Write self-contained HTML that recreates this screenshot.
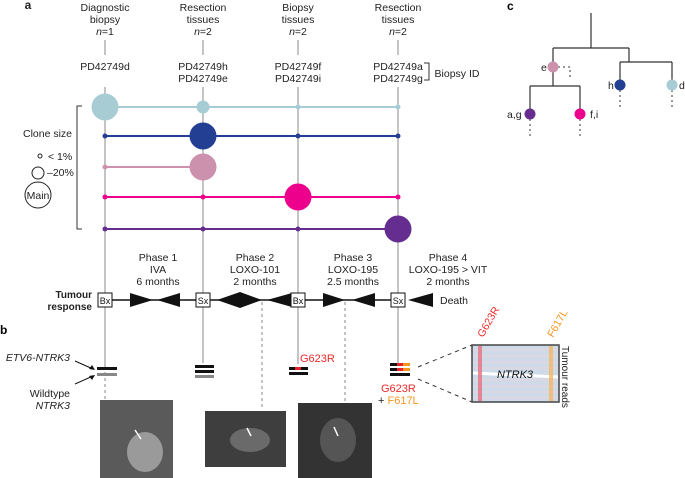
<!DOCTYPE html>
<html><head><style>body{margin:0;background:#fff}svg{display:block;font-family:"Liberation Sans",sans-serif}</style></head><body>
<svg width="685" height="478" viewBox="0 0 685 478" xmlns="http://www.w3.org/2000/svg">
<g font-size="10.5" fill="#222" text-anchor="middle">
<text x="28" y="9" font-weight="bold" font-size="12">a</text>
<text x="105" y="11">Diagnostic</text><text x="105" y="23">biopsy</text><text x="105" y="35"><tspan font-style="italic">n</tspan>=1</text>
<text x="203" y="11">Resection</text><text x="203" y="23">tissues</text><text x="203" y="35"><tspan font-style="italic">n</tspan>=2</text>
<text x="298" y="11">Biopsy</text><text x="298" y="23">tissues</text><text x="298" y="35"><tspan font-style="italic">n</tspan>=2</text>
<text x="398" y="11">Resection</text><text x="398" y="23">tissues</text><text x="398" y="35"><tspan font-style="italic">n</tspan>=2</text>
<text x="105" y="70">PD42749d</text>
<text x="203" y="70">PD42749h</text><text x="203" y="82">PD42749e</text>
<text x="298" y="70">PD42749f</text><text x="298" y="82">PD42749i</text>
<text x="398" y="70">PD42749a</text><text x="398" y="82">PD42749g</text>
<text x="457" y="77">Biopsy ID</text>
</g>
<path d="M424 63h5v17h-5" fill="none" stroke="#333"/>
<g stroke="#888" stroke-width="1">
<path d="M105 40v15M203 40v15M298 40v15M398 40v15"/>
<path d="M105 87v283M203 87v276M298 87v277M398 87v279"/>
</g>
<g stroke="#888" stroke-dasharray="3,3"><path d="M105 372v30M262 302v108M345 302v100"/></g>
<!-- rows -->
<g stroke-width="2">
<path d="M105 107H398" stroke="#a8ccd4"/>
<path d="M105 136H398" stroke="#233f94"/>
<path d="M105 167H203" stroke="#cc92ad"/>
<path d="M105 197H398" stroke="#ec008c"/>
<path d="M105 229H398" stroke="#662d91"/>
</g>
<g fill="#a8ccd4"><circle cx="105" cy="107" r="13.5"/><circle cx="203" cy="107" r="6.5"/><circle cx="298" cy="107" r="2.5"/><circle cx="398" cy="107" r="2.5"/></g>
<g fill="#233f94"><circle cx="105" cy="136" r="2.5"/><circle cx="203" cy="136" r="13.5"/><circle cx="298" cy="136" r="2.5"/><circle cx="398" cy="136" r="2.5"/></g>
<g fill="#cc92ad"><circle cx="105" cy="167" r="2.5"/><circle cx="203" cy="167" r="13.5"/></g>
<g fill="#ec008c"><circle cx="105" cy="197" r="2.5"/><circle cx="203" cy="197" r="2.5"/><circle cx="298" cy="197" r="13.5"/><circle cx="398" cy="197" r="2.5"/></g>
<g fill="#662d91"><circle cx="105" cy="229" r="2.5"/><circle cx="203" cy="229" r="2.5"/><circle cx="298" cy="229" r="2.5"/><circle cx="398" cy="229" r="13.5"/></g>
<path d="M82 106h-5v123h5" fill="none" stroke="#333"/>
<g font-size="10.5" fill="#222">
<text x="23" y="137">Clone size</text>
<text x="48" y="160">&lt; 1%</text>
<text x="47" y="176">–20%</text>
<text x="38" y="199" text-anchor="middle">Main</text>
</g>
<g fill="none" stroke="#222"><circle cx="40" cy="156" r="2"/><circle cx="38" cy="173" r="6"/><circle cx="38" cy="195" r="13"/></g>
<!-- timeline -->
<g font-size="10.5" fill="#222" text-anchor="middle">
<text x="158" y="261">Phase 1</text><text x="158" y="273">IVA</text><text x="158" y="285">6 months</text>
<text x="255" y="261">Phase 2</text><text x="255" y="273">LOXO-101</text><text x="255" y="285">2 months</text>
<text x="353" y="261">Phase 3</text><text x="353" y="273">LOXO-195</text><text x="353" y="285">2.5 months</text>
<text x="448" y="261">Phase 4</text><text x="448" y="273">LOXO-195 &gt; VIT</text><text x="448" y="285">2 months</text>
<text x="454" y="304">Death</text>
</g>
<g font-size="10" font-weight="bold" fill="#222" text-anchor="end"><text x="92" y="298">Tumour</text><text x="92" y="310">response</text></g>
<path d="M112 300H391" stroke="#111" stroke-width="1.5"/>
<g fill="#111">
<path d="M130 293L153 300L130 307Z"/><path d="M180 293L157 300L180 307Z"/>
<path d="M217 300L240 292L262 300L240 308Z"/><path d="M292 293L267 300L292 307Z"/>
<path d="M323 293L345 300L323 307Z"/><path d="M375 293L352 300L375 307Z"/>
<path d="M433 293L408 300L433 307Z"/>
</g>
<g fill="#fff" stroke="#111"><rect x="98" y="293" width="14" height="14"/><rect x="196" y="293" width="14" height="14"/><rect x="291" y="293" width="14" height="14"/><rect x="391" y="293" width="14" height="14"/></g>
<g font-size="9" fill="#111" text-anchor="middle"><text x="105" y="304">Bx</text><text x="203" y="304">Sx</text><text x="298" y="304">Bx</text><text x="398" y="304">Sx</text></g>
<!-- b -->
<text x="0" y="334" font-weight="bold" font-size="12">b</text>
<g font-size="10.5" fill="#222" text-anchor="end" font-style="italic"><text x="70" y="361">ETV6-NTRK3</text><text x="70" y="409">NTRK3</text></g>
<text x="70" y="397" font-size="10.5" fill="#222" text-anchor="end">Wildtype</text>
<g stroke="#111"><path d="M75 361L93 369M75 384L93 376"/></g>
<g fill="#111"><path d="M95 370l-6-1 3-4z"/><path d="M95 375l-6 1 3 4z"/></g>
<rect x="97" y="367" width="20" height="3" fill="#111"/><rect x="97" y="373" width="20" height="3" fill="#888"/>
<rect x="195" y="365" width="19" height="3" fill="#111"/><rect x="195" y="370" width="19" height="3" fill="#111"/><rect x="195" y="375" width="19" height="3" fill="#888"/>
<rect x="289" y="367" width="19" height="3" fill="#111"/><rect x="295" y="367" width="6" height="3" fill="#e8202a"/><rect x="289" y="372" width="19" height="3" fill="#111"/>
<text x="300" y="362" font-size="11" fill="#ee2a2a">G623R</text>
<rect x="390" y="363" width="20" height="3" fill="#111"/><rect x="397" y="363" width="6" height="3" fill="#e8202a"/><rect x="403" y="363" width="7" height="3" fill="#f7941d"/>
<rect x="390" y="368" width="20" height="3" fill="#111"/><rect x="397" y="368" width="6" height="3" fill="#e8202a"/><rect x="403" y="368" width="7" height="3" fill="#f7941d"/>
<rect x="390" y="373" width="20" height="3" fill="#111"/>
<text x="381" y="392" font-size="11" fill="#ee2a2a">G623R</text>
<text x="378" y="404" font-size="11" fill="#222">+ <tspan fill="#f7941d">F617L</tspan></text>
<g stroke="#333" stroke-dasharray="4,4"><path d="M418 367L472 345M418 379L472 402"/></g>
<rect x="472" y="345" width="87" height="57" fill="#cfdae8" stroke="#444" stroke-width="1.5"/>
<g stroke="#e8d4dc" stroke-width="1"><path d="M473 350h85M473 356h85M473 362h85M473 368h85M473 380h85M473 386h85M473 392h85M473 398h85"/></g>
<path d="M473 373L558 377" stroke="#fff" stroke-width="3"/>
<rect x="478" y="346" width="4" height="55" fill="#e5707e" opacity="0.8"/>
<rect x="549" y="346" width="4" height="55" fill="#f2b860" opacity="0.8"/>
<text x="515" y="378" font-size="11" font-style="italic" fill="#111" text-anchor="middle">NTRK3</text>
<text transform="translate(562,346) rotate(90)" font-size="10" fill="#222">Tumour reads</text>
<text transform="translate(483,338) rotate(-60)" font-size="10.5" fill="#ee2a2a">G623R</text>
<text transform="translate(553,338) rotate(-60)" font-size="10.5" fill="#f7941d">F617L</text>
<!-- images -->
<rect x="100" y="400" width="73" height="78" fill="#5a5a5a"/>
<ellipse cx="145" cy="452" rx="18" ry="20" fill="#9a9a9a"/>
<rect x="205" y="411" width="81" height="56" fill="#3e3e3e"/>
<ellipse cx="250" cy="440" rx="20" ry="12" fill="#6a6a6a"/>
<rect x="298" y="403" width="74" height="75" fill="#333"/>
<ellipse cx="338" cy="440" rx="18" ry="22" fill="#555"/>
<g stroke="#fff" stroke-width="1.5"><path d="M135 430l6 9M247 428l4 8M334 427l4 9"/></g>
<!-- c -->
<text x="507" y="10" font-weight="bold" font-size="12">c</text>
<g stroke="#333" fill="none" stroke-width="1.2">
<path d="M591 13v35M553 48h76M553 48v38M530 86h50M530 86v28M580 86v28M629 48v14M620 62h52M620 62v23M672 62v23"/>
</g>
<g stroke="#333" stroke-dasharray="2,3" fill="none"><path d="M553 67h17v12M530 114v24M580 114v24M620 85v24M672 85v24"/></g>
<circle cx="553" cy="67" r="5.5" fill="#cc92ad"/>
<circle cx="530" cy="114" r="5.5" fill="#662d91"/>
<circle cx="580" cy="114" r="5.5" fill="#ec008c"/>
<circle cx="620" cy="85" r="5.5" fill="#233f94"/>
<circle cx="672" cy="85" r="5.5" fill="#a8ccd4"/>
<g font-size="10.5" fill="#222"><text x="541" y="71">e</text><text x="608" y="89">h</text><text x="679" y="89">d</text><text x="507" y="118">a,g</text><text x="590" y="118">f,i</text></g>
</svg>
</body></html>
